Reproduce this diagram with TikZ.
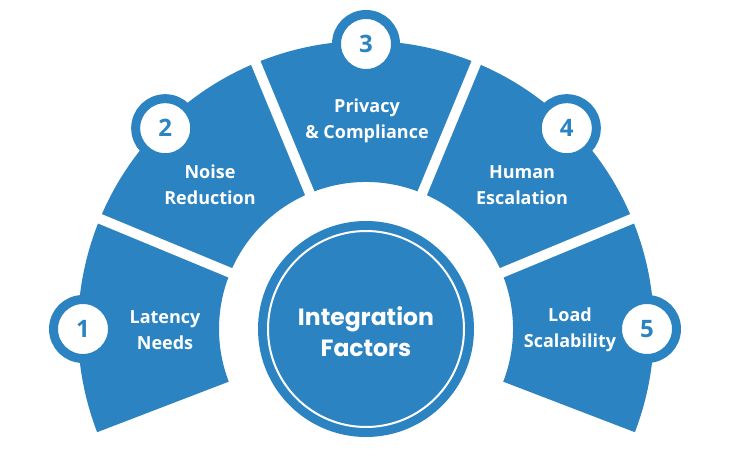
\documentclass[tikz,border=0pt]{standalone}
\usepackage{fontspec}
\setmainfont{Open Sans}
\newfontfamily\pop{Poppins}
\definecolor{mainblue}{HTML}{2B84C1}
\begin{document}
\begin{tikzpicture}[x=1pt,y=1pt,
  lbl/.style={text=white,font=\fontsize{18}{26}\selectfont\bfseries,align=center},
  badge/.style={circle,fill=white,draw=mainblue,line width=9pt,minimum size=59pt,inner sep=0pt,
     text=mainblue,font=\fontsize{24}{24}\selectfont\bfseries},
  gap/.style={white,line width=10pt}]
\useasboundingbox (0,0) rectangle (732,456);
\fill[white] (0,0) rectangle (732,456);
\coordinate (c) at (366,127);
% annulus
\fill[mainblue] ([shift={(201:288)}]c) arc[start angle=201,end angle=-21,radius=288]
  -- ([shift={(-21:147)}]c) arc[start angle=-21,end angle=201,radius=147] -- cycle;
\foreach \a in {157.5,112.5,67.5,22.5}
  \draw[gap] ([shift={(\a:140)}]c) -- ([shift={(\a:300)}]c);
% centre
\node[circle,fill=mainblue,minimum size=216pt,inner sep=0pt] (hub) at (c) {};
\draw[white,line width=2pt] (c) circle[radius=98];
\node[text=white,font=\pop\fontsize{23.5}{31}\selectfont\bfseries,align=center] (title) at (366,124) {Integration\\Factors};
% badges
\node[badge] (b1) at ([shift={(180:283)}]c) {1};
\node[badge] (b2) at ([shift={(135:284)}]c) {2};
\node[badge] (b3) at ([shift={(90:285)}]c) {3};
\node[badge] (b4) at ([shift={(45:284)}]c) {4};
\node[badge] (b5) at ([shift={(0:281)}]c) {5};
% labels
\node[lbl] (l1) at (165,126) {Latency\\Needs};
\node[lbl] (l2) at (210,271) {Noise\\Reduction};
\node[lbl] (l3) at (367,335) {Privacy\\\& Compliance};
\node[lbl] (l4) at (522,271) {Human\\Escalation};
\node[lbl] (l5) at (570,126) {Load\\Scalability};
\end{tikzpicture}
\end{document}
